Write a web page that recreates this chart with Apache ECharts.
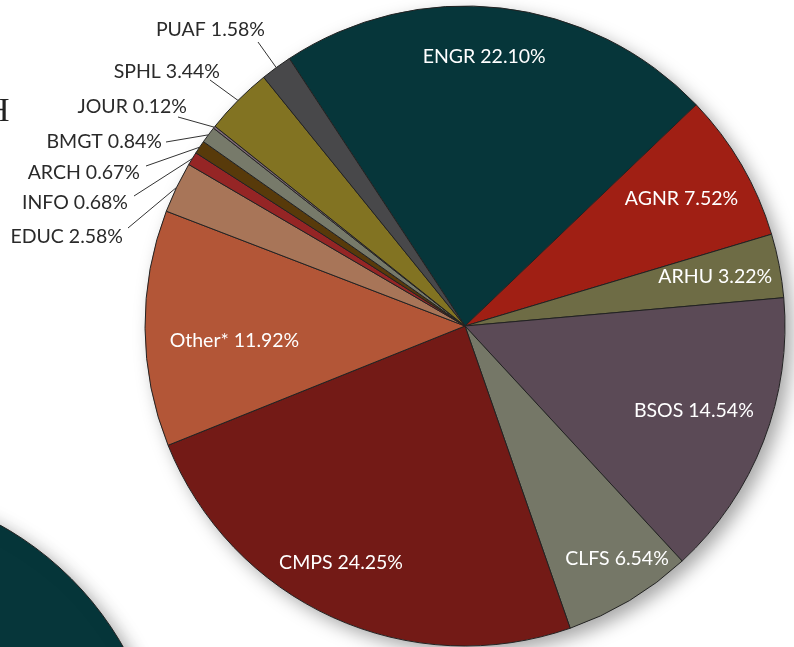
<!DOCTYPE html>
<html><head><meta charset="utf-8">
<script src="https://cdn.jsdelivr.net/npm/echarts@6/dist/echarts.min.js"></script>
<style>html,body{margin:0;padding:0;background:#fff}#c{width:794px;height:647px}</style>
</head><body><div id="c"></div>
<script>
// ---- data ----
const categories = ['ENGR','AGNR','ARHU','BSOS','CLFS','CMPS','Other*','EDUC','INFO','ARCH','BMGT','JOUR','SPHL','PUAF'];
const shares = [22.10, 7.52, 3.22, 14.54, 6.54, 24.25, 11.92, 2.58, 0.68, 0.67, 0.84, 0.12, 3.44, 1.58];
const insideLabelled = ['ENGR','AGNR','ARHU','BSOS','CLFS','CMPS','Other*'];

// ---- styles ----
const sliceColors = {
  'ENGR':'#06363a','AGNR':'#a01f14','ARHU':'#6e6c45','BSOS':'#5b4a56','CLFS':'#757767',
  'CMPS':'#731a16','Other*':'#b35637','EDUC':'#a87558','INFO':'#952525','ARCH':'#583a0a',
  'BMGT':'#777a6a','JOUR':'#7e6a77','SPHL':'#827322','PUAF':'#48484a'
};
const CX = 465, CY = 326, R = 320, START = 123.3;
const FONT = 'Lato', FONT_SIZE = 19.5;
// inside labels: radial distance and angular nudge (degrees)
const innerPlace = {
  'ENGR':{r:270,da:2.4}, 'AGNR':{r:251,da:0.2}, 'ARHU':{r:255,da:0.2}, 'BSOS':{r:244,da:0.8},
  'CLFS':{r:278,da:2.2}, 'CMPS':{r:267,da:-3.2}, 'Other*':{r:231,da:3.1}
};
// outside label placement: right edge x, middle y, leader line end
const outerPlace = {
  'PUAF':{x:265,y:30,lx:258,ly:42},
  'SPHL':{x:220,y:72,lx:210,ly:80},
  'JOUR':{x:187,y:107,lx:178,ly:117},
  'BMGT':{x:162,y:142,lx:166,ly:142},
  'ARCH':{x:140,y:173,lx:146,ly:166},
  'INFO':{x:128,y:203,lx:134,ly:196},
  'EDUC':{x:123,y:237,lx:128,ly:228}
};

const total = shares.reduce((a,b)=>a+b,0);
function midAngleDeg(i){
  let cum = 0; for (let k=0;k<i;k++) cum += shares[k];
  const a0 = START - cum/total*360;
  const a1 = a0 - shares[i]/total*360;
  return (a0+a1)/2;
}

const data = categories.map((name,i)=>{
  const inner = insideLabelled.indexOf(name) >= 0;
  return {
    name: name, value: shares[i],
    itemStyle: {color: sliceColors[name]},
    label: {position: inner ? 'inside' : 'outside', color: inner ? '#ffffff' : '#2a2a2a'},
    labelLine: {show: !inner}
  };
});

const chart = echarts.init(document.getElementById('c'), null, {renderer:'canvas'});
chart.setOption({
  animation: false,
  backgroundColor: '#ffffff',
  graphic: [
    {type:'circle', z:0, shape:{cx:CX, cy:CY, r:R}, style:{fill:'#ffffff', shadowBlur:18, shadowOffsetX:7, shadowOffsetY:7, shadowColor:'rgba(0,0,0,0.35)'}},
    {type:'circle', z:0, shape:{cx:-155, cy:805, r:320}, style:{fill:'#06363a', stroke:'#222', lineWidth:1, shadowBlur:18, shadowOffsetX:7, shadowOffsetY:7, shadowColor:'rgba(0,0,0,0.35)'}},
    {type:'text', z:1, x:-15, y:112, style:{text:'H', font:'34px "Liberation Serif"', fill:'#222', verticalAlign:'middle', align:'left'}}
  ],
  series: [{
    type: 'pie',
    z: 5,
    center: [CX, CY],
    radius: [0, R],
    startAngle: START,
    clockwise: true,
    avoidLabelOverlap: false,
    itemStyle: {borderColor:'#222222', borderWidth:1},
    label: {
      show: true, fontFamily: FONT, fontSize: FONT_SIZE,
      formatter: p => p.name + ' ' + p.value.toFixed(2) + '%'
    },
    labelLine: {lineStyle:{color:'#333333', width:1}, length: 10, length2: 10},
    emphasis: {disabled: true},
    labelLayout: function(params){
      const i = params.dataIndex;
      const name = categories[i];
      if (innerPlace[name] !== undefined) {
        const ip = innerPlace[name];
        const a = (midAngleDeg(i) + ip.da) * Math.PI/180;
        return {x: CX + ip.r*Math.cos(a), y: CY - ip.r*Math.sin(a), align:'center', verticalAlign:'middle'};
      }
      const a = midAngleDeg(i) * Math.PI/180;
      const p = outerPlace[name];
      const ax = CX + R*Math.cos(a), ay = CY - R*Math.sin(a);
      return {x: p.x, y: p.y, align:'right', verticalAlign:'middle',
        labelLinePoints: [[ax,ay],[p.lx,p.ly],[p.lx,p.ly]]};
    },
    data: data
  }]
});
</script></body></html>
